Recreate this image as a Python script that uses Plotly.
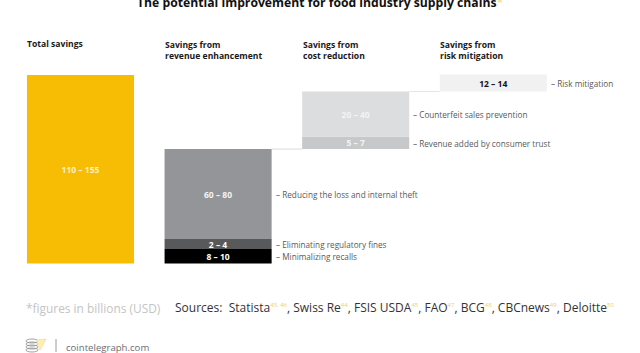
import plotly.graph_objects as go

W, H = 640, 353
SCALE = 1.42      # px per drawn unit
ZERO_PX = 263.5

categories = [0, 1, 2, 3]
segment_names = ["Total savings", "Minimalizing recalls", "Eliminating regulatory fines",
                 "Reducing the loss and internal theft", "Revenue added by consumer trust",
                 "Counterfeit sales prevention", "Risk mitigation"]
segment_cat = [0, 1, 1, 1, 2, 2, 3]
segment_height = [132.7, 10.2, 7.0, 63.4, 8.8, 31.7, 12.0]
segment_base = [0, 0, 10.2, 17.2, 80.6, 89.4, 121.1]
segment_label = ["110 – 155", "8 – 10", "2 – 4", "60 – 80", "5 – 7", "20 – 40", "12 – 14"]
segment_color = ["#f7bd04", "#000000", "#58595b", "#939598", "#c7c8ca", "#dcddde", "#f1f1f2"]
label_color = ["#fdf0c0", "#ffffff", "#ffffff", "#f4f4f5", "#f4f4f5", "#f4f4f5", "#111111"]

headers = ["Total savings", "Savings from<br>revenue enhancement", "Savings from<br>cost reduction",
           "Savings from<br>risk mitigation"]
header_x = [27, 165, 303, 440]

side_labels = ["– Risk mitigation", "– Counterfeit sales prevention", "– Revenue added by consumer trust",
               "– Reducing the loss and internal theft", "– Eliminating regulatory fines", "– Minimalizing recalls"]
side_x = [551, 413, 413, 275.5, 275.5, 275.5]
side_y = [83.5, 115, 143.5, 194, 244, 256.5]

STEP = 137.6
X0 = 80.5 / STEP

def px(x):
    return x / W

def py(y):
    return 1 - y / H

fig = go.Figure()
for i in range(len(segment_cat)):
    fig.add_trace(go.Bar(
        x=[segment_cat[i]], y=[segment_height[i]], base=[segment_base[i]], width=0.778,
        name=segment_names[i], marker=dict(color=segment_color[i], line=dict(width=0)),
        text=[segment_label[i]], textposition="inside", insidetextanchor="middle", textangle=0,
        insidetextfont=dict(family="Open Sans", size=8.5, color=label_color[i], weight="bold"),
        constraintext="none", cliponaxis=False,
    ))

annotations = []
def note(x, y, text, size, color, anchor="left", weight=None):
    f = dict(family="Open Sans", size=size, color=color)
    if weight:
        f["weight"] = weight
    annotations.append(dict(xref="paper", yref="paper", x=px(x), y=py(y), text=text, showarrow=False,
                            xanchor=anchor, yanchor="middle", align="left", font=f, borderpad=0, borderwidth=0))

note(320, 2.5, "The potential improvement for food industry supply chains<span style='color:#f2dc85'>*</span>",
     12.2, "#111111", "center", "bold")
for t, x in zip(headers, header_x):
    if "<br>" in t:
        note(x, 50, t, 8.6, "#1a1a1a", "left", "bold")
    else:
        note(x, 44, t, 8.6, "#1a1a1a", "left", "bold")
for t, x, y in zip(side_labels, side_x, side_y):
    note(x, y, t, 8.2, "#595959")

note(26, 307.5, "*figures in billions (USD)", 11.9, "#c4c4c4")
sup = lambda s: f"<sup><span style='color:#ecd06a;font-size:6px'>{s}</span></sup>"
note(175, 307.5, "Sources:  Statista" + sup("43, 46") + ", Swiss Re" + sup("44") + ", FSIS USDA" + sup("45")
     + ", FAO" + sup("47") + ", BCG" + sup("48") + ", CBCnews" + sup("49") + ", Deloitte" + sup("50"),
     12, "#333333")
note(66, 347, "cointelegraph.com", 9.6, "#6d6e71")

shapes = [
    # connector lines between the stacked columns
    dict(type="line", xref="x", yref="y", x0=1.389, x1=1.611, y0=80.6, y1=80.6, line=dict(color="#d9d9d9", width=1)),
    dict(type="line", xref="x", yref="y", x0=2.389, x1=2.611, y0=121.1, y1=121.1, line=dict(color="#e6e6e6", width=1)),
    # logo: divider and coin stack
    dict(type="line", xref="paper", yref="paper", x0=px(56), x1=px(56), y0=py(339), y1=py(352), line=dict(color="#9a9a9a", width=1)),
]
for yy in (341, 344, 347, 350):
    shapes.append(dict(type="circle", xref="paper", yref="paper", x0=px(26), x1=px(38), y0=py(yy - 2), y1=py(yy + 2),
                       line=dict(color="#8a8a8a", width=0.8), fillcolor="rgba(255,255,255,0)"))
shapes.append(dict(type="path", xref="paper", yref="paper",
                   path=f"M {px(37)} {py(340)} L {px(46)} {py(339)} L {px(40)} {py(350)} L {px(38)} {py(346)} Z",
                   line=dict(color="#f7e08a", width=0.8), fillcolor="#fbeeb8"))

fig.update_layout(
    width=W, height=H, margin=dict(l=0, r=0, t=0, b=0), showlegend=False,
    paper_bgcolor="#ffffff", plot_bgcolor="#ffffff", barmode="overlay",
    xaxis=dict(range=[-X0, W / STEP - X0], visible=False, fixedrange=True),
    yaxis=dict(range=[-(H - ZERO_PX) / SCALE, ZERO_PX / SCALE], visible=False, fixedrange=True),
    annotations=annotations, shapes=shapes,
)
fig.write_html("out.html", post_script="document.body.style.margin='0';", config={"displayModeBar": False})
